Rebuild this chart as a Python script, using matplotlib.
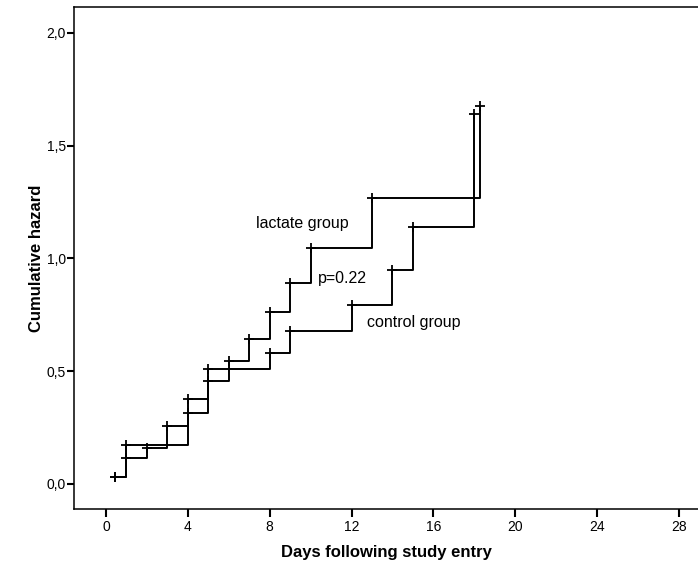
import matplotlib
matplotlib.use('Agg')
import matplotlib.pyplot as plt
from matplotlib.ticker import FuncFormatter

plt.rcParams['font.family'] = ['Liberation Sans', 'DejaVu Sans']

# Nelson-Aalen type step curves
lactate_days = [0.45, 1, 4, 5, 6, 7, 8, 9, 10, 13, 18.3]
lactate_haz = [0.032, 0.173, 0.313, 0.457, 0.547, 0.642, 0.764, 0.893, 1.045, 1.267, 1.676]

control_days = [0.45, 1, 2, 3, 4, 5, 8, 9, 12, 14, 15, 18]
control_haz = [0.032, 0.114, 0.161, 0.257, 0.377, 0.509, 0.582, 0.678, 0.794, 0.949, 1.138, 1.641]

x_ticks = [0, 4, 8, 12, 16, 20, 24, 28]
y_ticks = [0.0, 0.5, 1.0, 1.5, 2.0]


def main():
    fig = plt.figure(figsize=(6.98, 5.61), dpi=100)
    ax = fig.add_axes([0.106, 0.0927, 0.894, 0.894])

    for days, haz, name in [(lactate_days, lactate_haz, 'lactate group'),
                            (control_days, control_haz, 'control group')]:
        ax.step(days, haz, where='post', color='black', lw=1.4, label=name)
        ax.plot(days, haz, ls='none', marker='+', ms=7, mew=1.3, color='black')

    # labels inside the plot
    ax.text(7.33, 1.157, 'lactate group', fontsize=11.5, ha='left', va='center')
    ax.text(10.36, 0.909, 'p=0.22', fontsize=11.5, ha='left', va='center')
    ax.text(12.76, 0.714, 'control group', fontsize=11.5, ha='left', va='center')

    ax.set_xlim(-1.56, 28.93)
    ax.set_ylim(-0.111, 2.113)
    ax.set_xticks(x_ticks)
    ax.set_yticks(y_ticks)
    ax.yaxis.set_major_formatter(FuncFormatter(lambda v, p: f'{v:.1f}'.replace('.', ',')))

    ax.spines['right'].set_visible(False)
    for s in ['left', 'bottom', 'top']:
        ax.spines[s].set_linewidth(1.1)
    ax.tick_params(axis='x', length=6, width=1.5, pad=2, labelsize=10)
    ax.tick_params(axis='y', length=5, width=1.5, pad=1, labelsize=10)

    ax.set_xlabel('Days following study entry', fontsize=12, weight='bold', labelpad=8)
    ax.set_ylabel('Cumulative hazard', fontsize=12, weight='bold', labelpad=2)

    fig.savefig('out.png', dpi=100)
    plt.close(fig)


if __name__ == '__main__':
    main()
